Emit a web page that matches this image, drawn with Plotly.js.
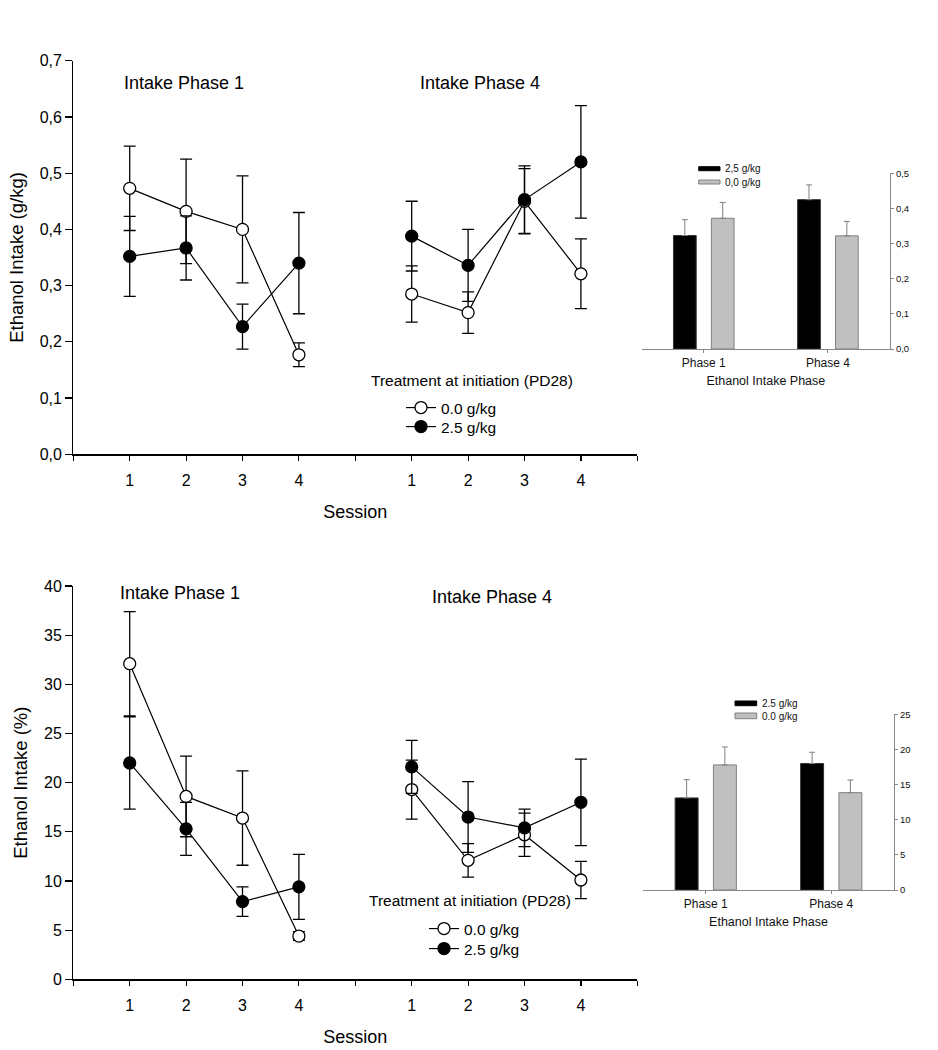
<!DOCTYPE html>
<html>
<head>
<meta charset="utf-8">
<script src="https://cdn.plot.ly/plotly-3.0.1.min.js"></script>
<style>html,body{margin:0;padding:0;background:#fff;}#chart{width:938px;height:1050px;}</style>
</head>
<body>
<div id="chart"></div>
<script>
// ---------- DATA ----------
const sessions = [1, 2, 3, 4];
const sessionTickVals = [0, 1, 2, 3, 4, 5, 6, 7, 8, 9, 10];
const sessionTickText = ['', '1', '2', '3', '4', '', '1', '2', '3', '4', ''];
const phaseOffset1 = 0;
const phaseOffset4 = 5;

// Ethanol intake (g/kg)
const gkgPhase1Open = [0.473, 0.432, 0.400, 0.177];
const gkgPhase1OpenErr = [0.075, 0.093, 0.095, 0.021];
const gkgPhase1Filled = [0.352, 0.367, 0.227, 0.340];
const gkgPhase1FilledErr = [0.071, 0.057, 0.040, 0.090];
const gkgPhase4Open = [0.285, 0.252, 0.450, 0.321];
const gkgPhase4OpenErr = [0.050, 0.037, 0.058, 0.062];
const gkgPhase4Filled = [0.388, 0.336, 0.453, 0.520];
const gkgPhase4FilledErr = [0.062, 0.064, 0.060, 0.100];

// Ethanol intake (%)
const pctPhase1Open = [32.1, 18.6, 16.4, 4.4];
const pctPhase1OpenErr = [5.3, 4.1, 4.8, 0.45];
const pctPhase1Filled = [22.0, 15.3, 7.9, 9.4];
const pctPhase1FilledErr = [4.7, 2.7, 1.5, 3.3];
const pctPhase4Open = [19.3, 12.1, 14.7, 10.1];
const pctPhase4OpenErr = [3.0, 1.7, 2.2, 1.9];
const pctPhase4Filled = [21.6, 16.5, 15.4, 18.0];
const pctPhase4FilledErr = [2.7, 3.6, 1.9, 4.4];

// Insets
const phases = ['Phase 1', 'Phase 4'];
const insetGkg25 = [0.323, 0.425];
const insetGkg25Err = [0.045, 0.042];
const insetGkg00 = [0.372, 0.322];
const insetGkg00Err = [0.045, 0.041];
const insetPct25 = [13.1, 18.0];
const insetPct25Err = [2.6, 1.6];
const insetPct00 = [17.8, 13.85];
const insetPct00Err = [2.55, 1.8];
const noErr = [0, 0];

// ---------- LAYOUT HELPERS ----------
const W = 938, H = 1050;
const px = v => v / W;
const py = v => 1 - v / H;
const FONT = 'Liberation Sans, Arial, sans-serif';

const xs1 = sessions.map(s => s + phaseOffset1);
const xs4 = sessions.map(s => s + phaseOffset4);

function lineTrace(x, y, err, filled, xa, ya, name, showlegend, legend) {
  return {
    type: 'scatter', mode: 'lines+markers', x: x, y: y, xaxis: xa, yaxis: ya,
    name: name, showlegend: showlegend, legend: legend,
    line: {color: '#000', width: 1.2},
    marker: {symbol: 'circle', size: 12, color: filled ? '#000' : '#fff', line: {color: '#000', width: 1.3}},
    error_y: {type: 'data', array: err, visible: true, color: '#000', thickness: 1.3, width: 6},
    cliponaxis: false
  };
}

function barTrace(y, err, dark, xa, ya, name) {
  return {
    type: 'bar', x: phases, y: y, xaxis: xa, yaxis: ya, name: name, showlegend: false,
    marker: {color: dark ? '#000' : '#c0c0c0', line: {color: dark ? '#333' : '#808080', width: 1}},
    error_y: {type: 'data', symmetric: false, array: err, arrayminus: noErr, visible: true, color: '#808080', thickness: 1, width: 3}
  };
}

const traces = [
  // top main
  lineTrace(xs1, gkgPhase1Open, gkgPhase1OpenErr, false, 'x', 'y', '0.0 g/kg', true, 'legend'),
  lineTrace(xs1, gkgPhase1Filled, gkgPhase1FilledErr, true, 'x', 'y', '2.5 g/kg', true, 'legend3'),
  lineTrace(xs4, gkgPhase4Open, gkgPhase4OpenErr, false, 'x', 'y', '0.0 g/kg', false, 'legend'),
  lineTrace(xs4, gkgPhase4Filled, gkgPhase4FilledErr, true, 'x', 'y', '2.5 g/kg', false, 'legend3'),
  // top inset
  barTrace(insetGkg25, insetGkg25Err, true, 'x2', 'y2', '2,5 g/kg'),
  barTrace(insetGkg00, insetGkg00Err, false, 'x2', 'y2', '0,0 g/kg'),
  // bottom main
  lineTrace(xs1, pctPhase1Open, pctPhase1OpenErr, false, 'x3', 'y3', '0.0 g/kg', true, 'legend2'),
  lineTrace(xs1, pctPhase1Filled, pctPhase1FilledErr, true, 'x3', 'y3', '2.5 g/kg', true, 'legend4'),
  lineTrace(xs4, pctPhase4Open, pctPhase4OpenErr, false, 'x3', 'y3', '0.0 g/kg', false, 'legend2'),
  lineTrace(xs4, pctPhase4Filled, pctPhase4FilledErr, true, 'x3', 'y3', '2.5 g/kg', false, 'legend4'),
  // bottom inset
  barTrace(insetPct25, insetPct25Err, true, 'x4', 'y4', '2.5 g/kg'),
  barTrace(insetPct00, insetPct00Err, false, 'x4', 'y4', '0.0 g/kg')
];

const mainX = (domain, anchor) => ({
  domain: domain, anchor: anchor, range: [0, 10], tickmode: 'array',
  tickvals: sessionTickVals, ticktext: sessionTickText,
  showline: true, linecolor: '#000', linewidth: 1.2, ticks: 'outside', ticklen: 5, tickwidth: 1.2, tickcolor: '#000',
  showgrid: false, zeroline: false, tickfont: {size: 16, color: '#000'}, ticklabelstandoff: 6,
  title: {text: 'Session', font: {size: 18, color: '#000'}, standoff: 17}, fixedrange: true
});
const mainY = (domain, anchor, range, dtick, fmt, title) => ({
  domain: domain, anchor: anchor, range: range, dtick: dtick, tick0: 0, tickformat: fmt,
  showline: true, linecolor: '#000', linewidth: 1.2, ticks: 'outside', ticklen: 7, tickwidth: 1.2, tickcolor: '#000',
  showgrid: false, zeroline: false, tickfont: {size: 16, color: '#000'},
  title: {text: title, font: {size: 18.5, color: '#000'}, standoff: 11}, fixedrange: true
});
const insetX = (domain, anchor) => ({
  domain: domain, anchor: anchor, type: 'category', range: [-0.5, 1.5],
  showline: true, linecolor: '#888', linewidth: 1, ticks: 'outside', ticklen: 3, tickcolor: '#888',
  showgrid: false, zeroline: false, tickfont: {size: 12, color: '#111'},
  title: {text: 'Ethanol Intake Phase', font: {size: 12.5, color: '#111'}, standoff: 6}, fixedrange: true
});
const insetY = (domain, anchor, range, dtick, fmt) => ({
  domain: domain, anchor: anchor, side: 'right', range: range, dtick: dtick, tick0: 0, tickformat: fmt,
  showline: true, linecolor: '#888', linewidth: 1, ticks: 'outside', ticklen: 3, tickcolor: '#888',
  showgrid: false, zeroline: false, tickfont: {size: 9.5, color: '#111'}, fixedrange: true
});

function ann(text, x, y, size, anchor) {
  return {text: text, xref: 'paper', yref: 'paper', x: px(x), y: py(y), xanchor: anchor || 'left', yanchor: 'middle',
          showarrow: false, font: {size: size, color: '#000'}};
}
function swatch(x0, x1, y0, y1, fill, line) {
  return {type: 'rect', xref: 'paper', yref: 'paper', x0: px(x0), x1: px(x1), y0: py(y1), y1: py(y0),
          fillcolor: fill, line: {color: line, width: 1}};
}
function legendAt(x, top) {
  return {x: px(x), y: py(top), xanchor: 'left', yanchor: 'top', bgcolor: 'rgba(0,0,0,0)',
          font: {size: 15.5, color: '#000'}, tracegroupgap: 0};
}

const layout = {
  width: W, height: H, margin: {l: 0, r: 0, t: 0, b: 0},
  paper_bgcolor: '#fff', plot_bgcolor: 'rgba(0,0,0,0)',
  separators: ',.',
  font: {family: FONT, color: '#000'},
  barmode: 'group', bargap: 0.39, bargroupgap: 0.4,
  xaxis: mainX([px(73.3), px(637.3)], 'y'),
  yaxis: mainY([py(454.3), py(60.7)], 'x', [0, 0.7], 0.1, '.1f', 'Ethanol Intake (g/kg)'),
  xaxis2: insetX([px(641.7), px(890)], 'y2'),
  yaxis2: insetY([py(349), py(173.3)], 'x2', [0, 0.5], 0.1, '.1f'),
  xaxis3: mainX([px(73.3), px(637.3)], 'y3'),
  yaxis3: mainY([py(979.3), py(586)], 'x3', [0, 40], 5, 'd', 'Ethanol Intake (%)'),
  xaxis4: insetX([px(643), px(894)], 'y4'),
  yaxis4: insetY([py(890), py(714.3)], 'x4', [0, 25], 5, 'd'),
  legend: legendAt(401, 391),
  legend3: legendAt(401, 410),
  legend2: legendAt(424, 912),
  legend4: legendAt(424, 932),
  annotations: [
    ann('Intake Phase 1', 122, 83, 18),
    ann('Intake Phase 4', 418, 83, 18),
    ann('Treatment at initiation (PD28)', 369, 380, 15.5),
    ann('Intake Phase 1', 118, 593, 18),
    ann('Intake Phase 4', 430, 597, 18),
    ann('Treatment at initiation (PD28)', 367, 900, 15.5),
    // inset legends
    {text: '2,5 g/kg', xref: 'paper', yref: 'paper', x: px(723), y: py(168.7), xanchor: 'left', yanchor: 'middle', showarrow: false, font: {size: 10, color: '#111'}},
    {text: '0,0 g/kg', xref: 'paper', yref: 'paper', x: px(723), y: py(182), xanchor: 'left', yanchor: 'middle', showarrow: false, font: {size: 10, color: '#111'}},
    {text: '2.5 g/kg', xref: 'paper', yref: 'paper', x: px(760), y: py(703.3), xanchor: 'left', yanchor: 'middle', showarrow: false, font: {size: 10, color: '#111'}},
    {text: '0.0 g/kg', xref: 'paper', yref: 'paper', x: px(760), y: py(716), xanchor: 'left', yanchor: 'middle', showarrow: false, font: {size: 10, color: '#111'}}
  ],
  shapes: [
    swatch(698.7, 720, 166.7, 170.7, '#000', '#000'),
    swatch(698.7, 720, 180, 184, '#c0c0c0', '#808080'),
    swatch(735, 756.7, 701, 705.7, '#000', '#000'),
    swatch(735, 756.7, 713, 718.7, '#c0c0c0', '#808080')
  ]
};

Plotly.newPlot('chart', traces, layout, {staticPlot: true, displayModeBar: false});
</script>
</body>
</html>
